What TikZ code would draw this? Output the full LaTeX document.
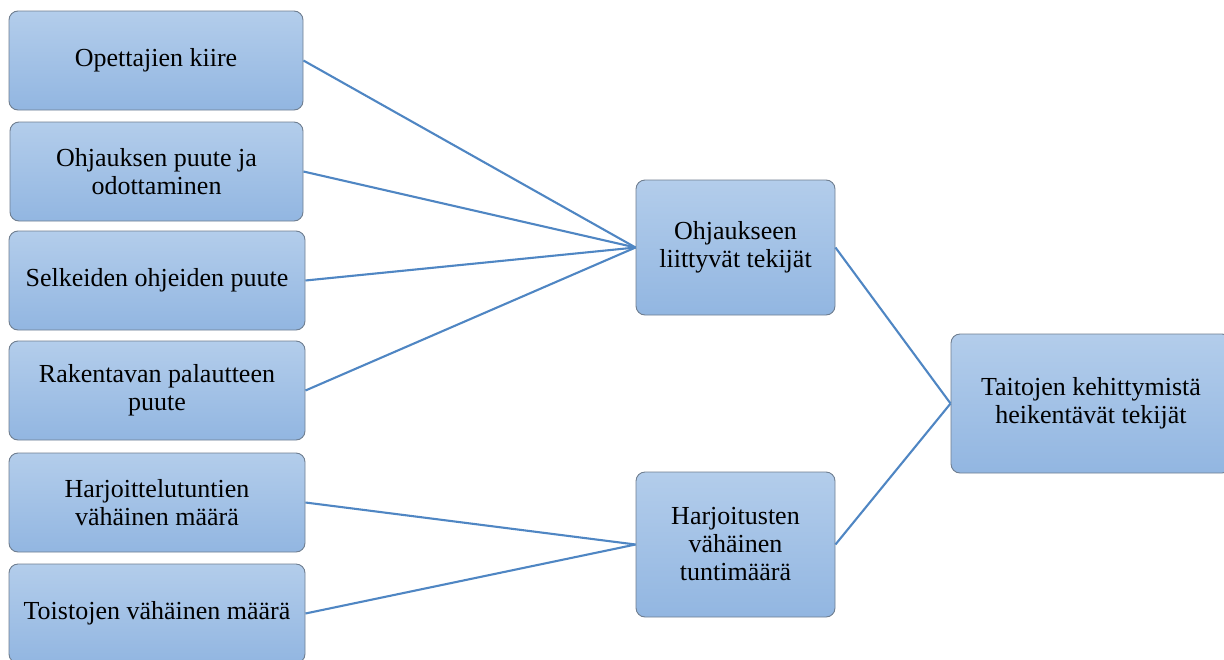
\documentclass[tikz,border=0pt]{standalone}
\usepackage{fontspec}
\setmainfont{Liberation Serif}
\usetikzlibrary{positioning}
\definecolor{boxtop}{HTML}{B3CDEB}
\definecolor{boxbot}{HTML}{92B6E1}
\definecolor{boxedge}{HTML}{6F7E90}
\definecolor{linkblue}{HTML}{4F86C3}
\tikzset{
  box/.style={rectangle, rounded corners=9pt, draw=boxedge, line width=0.9pt,
    top color=boxtop, bottom color=boxbot, align=center,
    font=\fontsize{26}{28}\selectfont, inner sep=2pt},
  link/.style={draw=linkblue, line width=2.1pt}
}
\begin{document}
\begin{tikzpicture}[x=1pt,y=-1pt]
\useasboundingbox (0,0) rectangle (1224,659);
% left column of factors
\node[box, minimum width=294pt, minimum height=99pt] (a1) at (156,60.5) {Opettajien kiire};
\node[box, minimum width=293pt, minimum height=99pt] (a2) at (156.5,171.5) {Ohjauksen puute ja\\odottaminen};
\node[box, minimum width=296pt, minimum height=99pt] (a3) at (157,280.5) {Selkeiden ohjeiden puute};
\node[box, minimum width=296pt, minimum height=99pt] (a4) at (157,390.5) {Rakentavan palautteen\\puute};
\node[box, minimum width=296pt, minimum height=99pt] (a5) at (157,502.5) {Harjoittelutuntien\\vähäinen määrä};
\node[box, minimum width=296pt, minimum height=99pt] (a6) at (157,613.5) {Toistojen vähäinen määrä};
% middle groups
\node[box, minimum width=199pt, minimum height=135pt] (b1) at (735.5,247.5) {Ohjaukseen\\liittyvät tekijät};
\node[box, minimum width=199pt, minimum height=145pt] (b2) at (735.5,544.5) {Harjoitusten\\vähäinen\\tuntimäärä};
% overall result
\node[box, minimum width=280pt, minimum height=139pt] (c) at (1091,403.5) {Taitojen kehittymistä\\heikentävät tekijät};
% connectors
\foreach \s in {a1,a2,a3,a4} \draw[link] (\s.east) -- (b1.west);
\foreach \s in {a5,a6} \draw[link] (\s.east) -- (b2.west);
\draw[link] (b1.east) -- (c.west);
\draw[link] (b2.east) -- (c.west);
\end{tikzpicture}
\end{document}
